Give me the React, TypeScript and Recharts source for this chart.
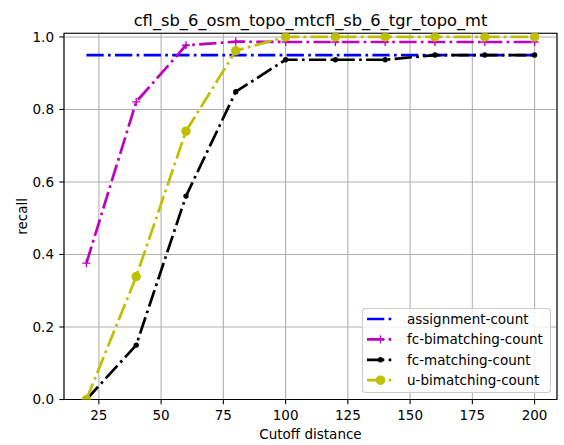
import React from 'react';
import {
  LineChart,
  Line,
  XAxis,
  YAxis,
  CartesianGrid,
  Legend,
  ReferenceArea,
  Customized,
} from 'recharts';

// Cutoff distances on the x axis
const cutoffs = [20, 40, 60, 80, 100, 120, 140, 160, 180, 200];

// Recall per method
const assignmentCount = [0.95, 0.95, 0.95, 0.95, 0.95, 0.95, 0.95, 0.95, 0.95, 0.95];
const fcBimatchingCount = [0.376, 0.821, 0.977, 0.987, 0.986, 0.986, 0.986, 0.986, 0.986, 0.986];
const fcMatchingCount = [0.0, 0.15, 0.561, 0.849, 0.937, 0.937, 0.937, 0.95, 0.95, 0.95];
const uBimatchingCount = [0.0, 0.339, 0.74, 0.962, 1.0, 1.0, 1.0, 1.0, 1.0, 1.0];

const xTicks = [25, 50, 75, 100, 125, 150, 175, 200];
const yTicks = [0, 0.2, 0.4, 0.6, 0.8, 1.0];

const TITLE = 'cfl_sb_6_osm_topo_mtcfl_sb_6_tgr_topo_mt';
const X_LABEL = 'Cutoff distance';
const Y_LABEL = 'recall';

type MarkerKind = 'none' | 'plus' | 'point' | 'circle';

const series: { key: string; name: string; color: string; marker: MarkerKind }[] = [
  { key: 'assignment', name: 'assignment-count', color: '#0000ff', marker: 'none' },
  { key: 'fcBimatching', name: 'fc-bimatching-count', color: '#bf00bf', marker: 'plus' },
  { key: 'fcMatching', name: 'fc-matching-count', color: '#000000', marker: 'point' },
  { key: 'uBimatching', name: 'u-bimatching-count', color: '#bfbf00', marker: 'circle' },
];

const data = cutoffs.map((c, i) => ({
  cutoff: c,
  assignment: assignmentCount[i],
  fcBimatching: fcBimatchingCount[i],
  fcMatching: fcMatchingCount[i],
  uBimatching: uBimatchingCount[i],
}));

const FONT = '"DejaVu Sans", sans-serif';
const DASH = '17.3 4.3 2.7 4.3';
const LINE_W = 2.7;

function drawMarker(kind: MarkerKind, cx: number, cy: number, color: string, key?: string) {
  if (kind === 'plus') {
    const h = 4.05;
    return (
      <g key={key}>
        <line x1={cx - h} x2={cx + h} y1={cy} y2={cy} stroke={color} strokeWidth={1.35} />
        <line x1={cx} x2={cx} y1={cy - h} y2={cy + h} stroke={color} strokeWidth={1.35} />
      </g>
    );
  }
  if (kind === 'point') {
    return <circle key={key} cx={cx} cy={cy} r={2.03} fill={color} stroke={color} strokeWidth={1.35} />;
  }
  if (kind === 'circle') {
    return <circle key={key} cx={cx} cy={cy} r={4.05} fill={color} stroke={color} strokeWidth={1.35} />;
  }
  return null;
}

const makeDot = (kind: MarkerKind, color: string) => (props: any) => {
  const { cx, cy, index } = props;
  if (cx == null || cy == null) return <g key={`d-${index}`} />;
  return drawMarker(kind, cx, cy, color, `d-${index}`) as any;
};

const LegendBox = () => (
  <svg width={189} height={85} style={{ display: 'block' }}>
    <rect
      x={0.5}
      y={0.5}
      width={188}
      height={84}
      rx={3}
      fill="rgba(255,255,255,0.8)"
      stroke="#cccccc"
      strokeWidth={1.08}
    />
    {series.map((s, i) => {
      const y = 11 + i * 20.4;
      return (
        <g key={s.key}>
          <line x1={5} x2={32} y1={y} y2={y} stroke={s.color} strokeWidth={LINE_W} strokeDasharray={DASH} />
          {drawMarker(s.marker, 18.5, y, s.color)}
          <text x={45} y={y} dy="0.35em" fontSize={13.5} fontFamily={FONT} fill="#000">
            {s.name}
          </text>
        </g>
      );
    })}
  </svg>
);

const Texts = () => (
  <g fontFamily={FONT} fill="#000">
    <text x={310.5} y={25.5} textAnchor="middle" fontSize={16.3}>
      {TITLE}
    </text>
    <text x={310.5} y={439} textAnchor="middle" fontSize={13.5}>
      {X_LABEL}
    </text>
    <text transform="translate(27,216.4) rotate(-90)" textAnchor="middle" fontSize={13.5}>
      {Y_LABEL}
    </text>
  </g>
);

export default function App() {
  return (
    <div style={{ position: 'absolute', left: 0, top: 0, width: 564, height: 445, background: '#fff' }}>
      <LineChart width={564} height={445} data={data} margin={{ top: 33.3, right: 7, bottom: 0, left: 0 }}>
        <CartesianGrid stroke="#b0b0b0" strokeWidth={1.08} />
        <XAxis
          dataKey="cutoff"
          type="number"
          domain={[11, 209]}
          ticks={xTicks}
          allowDataOverflow
          height={45.5}
          axisLine={false}
          tickLine={{ stroke: '#000', strokeWidth: 1.08 }}
          tickSize={4.7}
          tickMargin={5.8}
          tick={{ fontSize: 13.5, fontFamily: FONT, fill: '#000' }}
        />
        <YAxis
          type="number"
          domain={[0, 1.01]}
          ticks={yTicks}
          allowDataOverflow
          width={64}
          axisLine={false}
          tickLine={{ stroke: '#000', strokeWidth: 1.08 }}
          tickSize={4.7}
          tickMargin={5.3}
          tickFormatter={(v: number) => v.toFixed(1)}
          tick={{ fontSize: 13.5, fontFamily: FONT, fill: '#000' }}
        />
        {series.map((s) => (
          <Line
            key={s.key}
            dataKey={s.key}
            name={s.name}
            stroke={s.color}
            strokeWidth={LINE_W}
            strokeDasharray={DASH}
            strokeLinejoin="round"
            strokeLinecap="butt"
            dot={s.marker === 'none' ? false : makeDot(s.marker, s.color)}
            activeDot={false}
            isAnimationActive={false}
          />
        ))}
        <ReferenceArea x1={11} x2={209} y1={0} y2={1.01} fill="none" stroke="#000" strokeWidth={1.08} />
        <Legend
          layout="vertical"
          align="center"
          verticalAlign="middle"
          wrapperStyle={{ position: 'absolute', left: 362, top: 308, width: 189, height: 85 }}
          content={() => <LegendBox />}
        />
        <Customized component={Texts} />
      </LineChart>
    </div>
  );
}
